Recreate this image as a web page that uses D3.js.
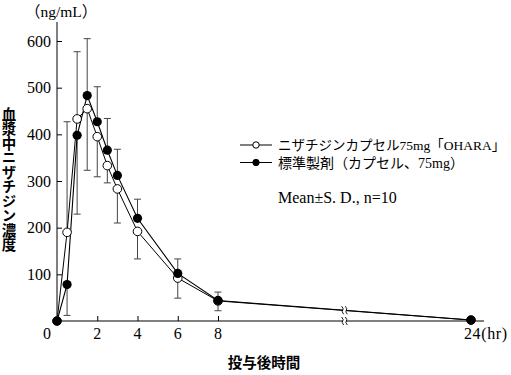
<!DOCTYPE html>
<html><head><meta charset="utf-8">
<script src="https://cdn.jsdelivr.net/npm/d3@7"></script>
<style>
html,body{margin:0;padding:0;background:#fff;}
svg{display:block;}
.serif{font-family:"Liberation Serif","Noto Sans CJK JP",serif;}
.gothic{font-family:"Noto Sans CJK JP",sans-serif;}
</style></head>
<body>
<svg id="chart" width="511" height="375"></svg>
<script>
// ---- data ----
const times = [0, 0.5, 1, 1.5, 2, 2.5, 3, 4, 6, 8, 24];
const testMean = [0, 190, 433, 455, 395, 333, 283, 192, 92, 43, 2];
const testSD   = [0, 237, 144, 132, 86, 37, 73, 59, 43, 21, 0];
const refMean  = [0, 78, 398, 483, 427, 366, 312, 220, 102, 44, 2];
const refSD    = [0, 66, 169, 122, 75, 68, 56, 41, 31, 18, 0];
const yTicks = [100, 200, 300, 400, 500, 600];
const xTicks = [2, 4, 6, 8];
const xLabels = ["0", "2", "4", "6", "8"];
const legendLabels = ["ニザチジンカプセル75mg「OHARA」", "標準製剤（カプセル、75mg）"];
const statText = "Mean±S. D., n=10";
const yTitle = "血漿中ニザチジン濃度";
const xTitle = "投与後時間";
const yUnit = "（ng/mL）";
const lastLabel = "24(hr)";
const breakTime = 16;

const svg = d3.select("#chart");
const x = d3.scaleLinear().domain([0, 8, 24]).range([57, 218, 471]);
const y = d3.scaleLinear().domain([0, 600]).range([321, 41]);

// axes
svg.append("line").attr("x1", x(0)).attr("x2", 484).attr("y1", y(0)).attr("y2", y(0)).attr("stroke", "#000");
svg.append("line").attr("x1", x(0)).attr("x2", x(0)).attr("y1", y(0)).attr("y2", 22).attr("stroke", "#000");

const yAxis = d3.axisRight(y).tickValues(yTicks).tickSize(5).tickFormat("");
const gy = svg.append("g").attr("transform", `translate(${x(0)},0)`).call(yAxis);
gy.select(".domain").remove();
svg.selectAll(".ylab").data(yTicks).enter().append("text")
  .attr("class", "serif").attr("x", 51).attr("y", d => y(d) + 5.5)
  .attr("text-anchor", "end").attr("font-size", 16).text(d => d);

const xAxis = d3.axisTop(x).tickValues(xTicks).tickSize(5).tickFormat("");
const gx = svg.append("g").attr("transform", `translate(0,${y(0)})`).call(xAxis);
gx.select(".domain").remove();
svg.selectAll(".xlab").data([0, 2, 4, 6, 8]).enter().append("text")
  .attr("class", "serif").attr("x", (d, i) => i === 0 ? x(d) - 10 : x(d)).attr("y", 339)
  .attr("text-anchor", "middle").attr("font-size", 16).text((d, i) => xLabels[i]);
svg.append("text").attr("class", "serif").attr("x", x(24) - 7).attr("y", 339)
  .attr("font-size", 16).attr("letter-spacing", 0.6).text(lastLabel);

// titles
svg.append("text").attr("class", "serif").attr("x", 25).attr("y", 17).attr("font-size", 15.5).text(yUnit);
svg.append("text").attr("class", "gothic").attr("x", 9).attr("y", 107)
  .attr("font-size", 14.5).attr("font-weight", 600)
  .style("writing-mode", "vertical-rl").style("text-orientation", "upright")
  .text(yTitle);
svg.append("text").attr("class", "gothic").attr("x", 264).attr("y", 368)
  .attr("text-anchor", "middle").attr("font-size", 14.5).attr("font-weight", 600).text(xTitle);

// error bars
function bars(mean, sd, other) {
  const g = svg.append("g").attr("stroke", "#444").attr("stroke-width", 1);
  times.forEach((t, i) => {
    if (!sd[i]) return;
    const up = mean[i] >= other[i];
    const end = up ? mean[i] + sd[i] : mean[i] - sd[i];
    g.append("line").attr("x1", x(t)).attr("x2", x(t)).attr("y1", y(mean[i])).attr("y2", y(end));
    g.append("line").attr("x1", x(t) - 3.5).attr("x2", x(t) + 3.5).attr("y1", y(end)).attr("y2", y(end));
  });
}
bars(testMean, testSD, refMean);
bars(refMean, refSD, testMean);

// lines
const line = d3.line().x(d => x(d[0])).y(d => y(d[1]));
svg.append("path").datum(times.map((t, i) => [t, testMean[i]])).attr("d", line)
  .attr("fill", "none").attr("stroke", "#000").attr("stroke-width", 1);
svg.append("path").datum(times.map((t, i) => [t, refMean[i]])).attr("d", line)
  .attr("fill", "none").attr("stroke", "#000").attr("stroke-width", 1.1);

// break marks
function breakMark(cx, cy) {
  svg.append("rect").attr("x", cx - 1.5).attr("y", cy - 4).attr("width", 3).attr("height", 8).attr("fill", "#fff");
  [-1.8, 1.8].forEach(dx => {
    svg.append("path").attr("d", `M${cx + dx - 1},${cy - 4} Q${cx + dx + 1.5},${cy - 1} ${cx + dx},${cy} Q${cx + dx - 1.5},${cy + 1} ${cx + dx + 1},${cy + 4}`)
      .attr("fill", "none").attr("stroke", "#000").attr("stroke-width", 0.9);
  });
}
const yAtBreak = refMean[9] + (refMean[10] - refMean[9]) * (breakTime - 8) / 16;
breakMark(x(breakTime), y(yAtBreak));
breakMark(x(breakTime), y(0));

// markers
svg.selectAll(".mt").data(times.map((t, i) => [t, testMean[i]])).enter().append("circle")
  .attr("cx", d => x(d[0])).attr("cy", d => y(d[1])).attr("r", 4.3)
  .attr("fill", "#fff").attr("stroke", "#000").attr("stroke-width", 1);
svg.selectAll(".mr").data(times.map((t, i) => [t, refMean[i]])).enter().append("circle")
  .attr("cx", d => x(d[0])).attr("cy", d => y(d[1])).attr("r", 4.6)
  .attr("fill", "#000");

// legend
const lg = svg.append("g");
[0, 1].forEach(i => {
  const ly = 145 + i * 17.5;
  lg.append("line").attr("x1", 240).attr("x2", 272).attr("y1", ly).attr("y2", ly).attr("stroke", "#000");
  lg.append("circle").attr("cx", 256).attr("cy", ly).attr("r", 3.2)
    .attr("fill", i === 0 ? "#fff" : "#000").attr("stroke", "#000");
  lg.append("text").attr("class", "serif").attr("x", 278).attr("y", ly + 5)
    .attr("font-size", i === 0 ? 13.5 : 14).text(legendLabels[i]);
});
lg.append("text").attr("class", "serif").attr("x", 278).attr("y", 203).attr("font-size", 16).text(statText);
</script>
</body></html>
